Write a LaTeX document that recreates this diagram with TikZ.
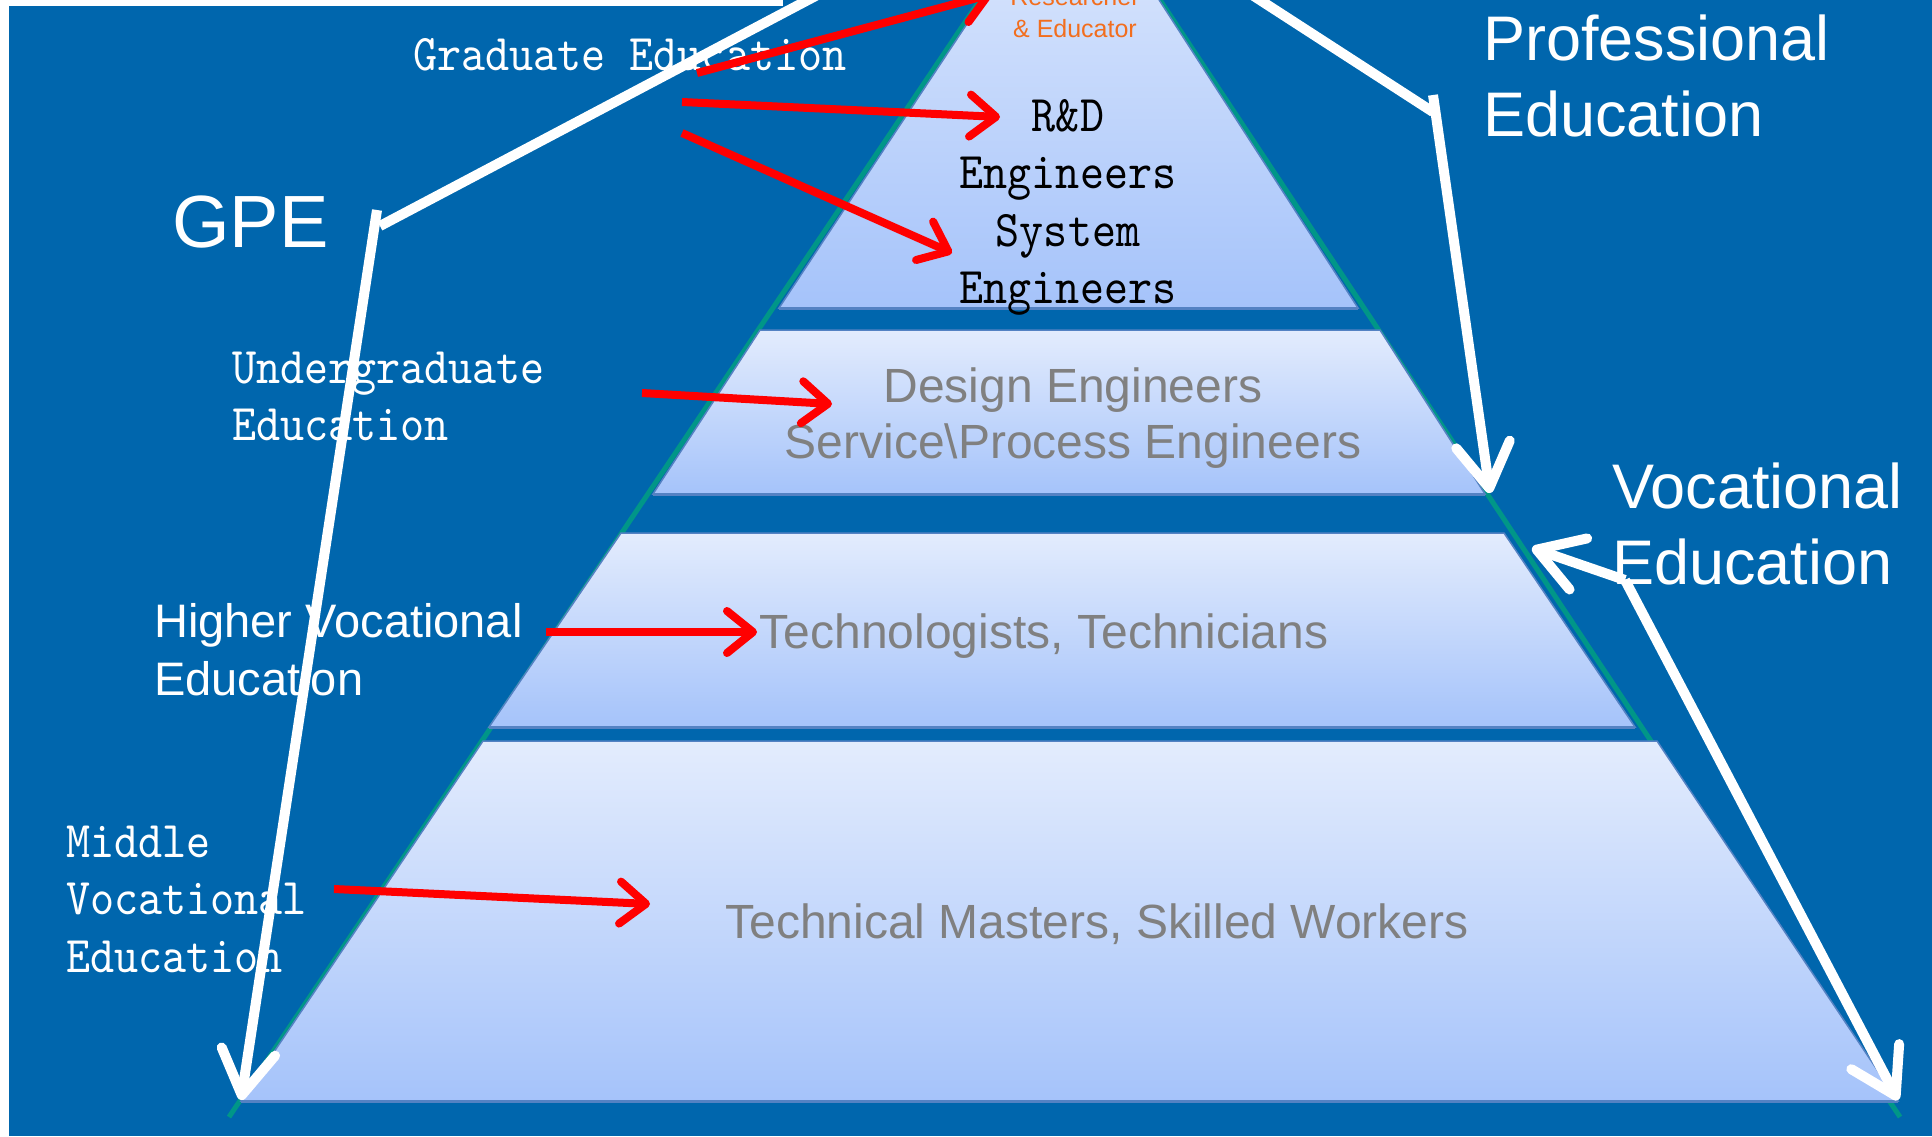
\documentclass[tikz,border=0pt]{standalone}
\usepackage{fontspec}
\setmainfont{Liberation Sans}
\newfontfamily\monoserif{lmmono10-regular.otf}[FakeStretch=0.89]
\usetikzlibrary{arrows.meta}

\definecolor{slide}{RGB}{0,102,173}
\definecolor{edgeteal}{RGB}{0,150,136}
\definecolor{tiertop}{RGB}{227,236,253}
\definecolor{tierbot}{RGB}{165,195,250}
\definecolor{tierline}{RGB}{84,130,195}
\definecolor{labelgray}{RGB}{128,128,128}
\definecolor{accent}{RGB}{242,110,30}
\definecolor{pointer}{RGB}{255,0,0}

\begin{document}
\begin{tikzpicture}[
  x=1pt, y=-1pt,
  tier/.style={top color=tiertop, bottom color=tierbot, draw=tierline, line width=1.5pt},
  tierbase/.style={draw=tierline, line width=3pt},
  edgeline/.style={draw=edgeteal, line width=5pt},
  monolabel/.style={font=\monoserif\fontsize{51.5}{57.5}\selectfont, text=white, inner sep=0pt},
  sanslabel/.style={font=\fontsize{47}{58}\selectfont, text=white, inner sep=0pt},
  biglabel/.style={font=\fontsize{63}{76.5}\selectfont, text=white, inner sep=0pt},
  tierlabel/.style={font=\fontsize{48}{56}\selectfont, text=labelgray, inner sep=0pt},
  redarrow/.style={draw=pointer, line width=8pt,
    -{Straight Barb[length=26pt, width=42pt, round]}},
  whitearrow/.style={draw=white, line width=10pt,
    -{Straight Barb[length=44pt, width=54pt, round]}},
  whiteline/.style={draw=white, line width=10pt}
]
\useasboundingbox (0,0) rectangle (1932,1136);
\begin{scope}
\clip (0,0) rectangle (1932,1136);

% slide background
\fill[white] (0,0) rectangle (1932,1136);
\fill[slide] (9,0) rectangle (1932,1136);
\fill[white] (0,0) rectangle (783,6);

% outer edges of the pyramid
\draw[edgeline] (980,0) -- (229,1117);
\draw[edgeline] (1160,0) -- (1900,1117);

% the four tiers
\path[tier] (1072,-135) -- (1358,308) -- (779,308) -- cycle;
\draw[tierbase] (779,308) -- (1358,308);
\path[tier] (760,330) -- (1380,330) -- (1485,494) -- (653,494) -- cycle;
\draw[tierbase] (653,494) -- (1485,494);
\path[tier] (621,533) -- (1504,533) -- (1635,727) -- (489,727) -- cycle;
\draw[tierbase] (489,727) -- (1635,727);
\path[tier] (483,741) -- (1657,741) -- (1898,1101) -- (241,1101) -- cycle;
\draw[tierbase] (241,1101) -- (1898,1101);

% labels inside the pyramid
\node[font=\fontsize{25}{32}\selectfont, text=accent, inner sep=0pt, anchor=base]
  (researcher) at (1075,5) {\begin{tabular}[t]{@{}c@{}}Researcher\\\& Educator\end{tabular}};
\node[monolabel, text=black, anchor=base] (rd) at (1068,131)
  {\begin{tabular}[t]{@{}c@{}}R\&D\\Engineers\\System\\Engineers\end{tabular}};
\node[tierlabel, anchor=base] (design) at (1073,402)
  {\begin{tabular}[t]{@{}c@{}}Design Engineers\\Service\textbackslash Process Engineers\end{tabular}};
\node[tierlabel, anchor=base] (techn) at (1044,648) {Technologists, Technicians};
\node[tierlabel, anchor=base] (masters) at (1097,938) {Technical Masters, Skilled Workers};

% education levels
\node[monolabel, anchor=base west] (grad) at (413,70) {Graduate Education};
\node[monolabel, anchor=base west] (undergrad) at (232,383)
  {\begin{tabular}[t]{@{}l@{}}Undergraduate\\Education\end{tabular}};
\node[sanslabel, anchor=base west] (higher) at (154,637)
  {\begin{tabular}[t]{@{}l@{}}Higher Vocational\\Education\end{tabular}};
\node[monolabel, anchor=base west] (middle) at (66,857)
  {\begin{tabular}[t]{@{}l@{}}Middle\\Vocational\\Education\end{tabular}};

% the three streams
\node[font=\fontsize{74}{80}\selectfont, text=white, inner sep=0pt, anchor=base west]
  (gpe) at (172,247) {GPE};
\node[biglabel, anchor=base west] (prof) at (1483,60)
  {\begin{tabular}[t]{@{}l@{}}Professional\\Education\end{tabular}};
\node[biglabel, anchor=base west] (voc) at (1612,508)
  {\begin{tabular}[t]{@{}l@{}}Vocational\\Education\end{tabular}};

% white stream arrows
\coordinate (gpeTop) at (825,-9);
\coordinate (gpeBend) at (380,226);
\coordinate (gpeStart) at (377,210);
\coordinate (gpeTip) at (241,1100);
\draw[whiteline] (gpeTop) -- (gpeBend);
\draw[whitearrow] (gpeStart) -- (gpeTip);

\coordinate (profTop) at (1246,-9);
\coordinate (profBend) at (1433,112);
\coordinate (profStart) at (1433,95);
\coordinate (profTip) at (1490,493);
\draw[whiteline] (profTop) -- (profBend);
\draw[whitearrow] (profStart) -- (profTip);

\coordinate (vocBend) at (1625,580);
\coordinate (vocTipA) at (1532,548);
\coordinate (vocTipB) at (1898,1100);
\draw[whitearrow] (vocBend) -- (vocTipA);
\draw[whitearrow] (vocBend) -- (vocTipB);

% red pointers from levels to roles
\coordinate (gradA) at (697,73);
\coordinate (gradB) at (682,102);
\coordinate (gradC) at (682,133);
\coordinate (resTip) at (992,-6);
\coordinate (rdTip) at (1000,117);
\coordinate (sysTip) at (952,253);
\draw[redarrow] (gradA) -- (resTip);
\draw[redarrow] (gradB) -- (rdTip);
\draw[redarrow] (gradC) -- (sysTip);

\coordinate (ugStart) at (642,393);
\coordinate (ugTip) at (832,404);
\draw[redarrow] (ugStart) -- (ugTip);

\coordinate (hvStart) at (546,632);
\coordinate (hvTip) at (757,632);
\draw[redarrow] (hvStart) -- (hvTip);

\coordinate (mvStart) at (334,889);
\coordinate (mvTip) at (650,904);
\draw[redarrow] (mvStart) -- (mvTip);
\end{scope}
\end{tikzpicture}
\end{document}
